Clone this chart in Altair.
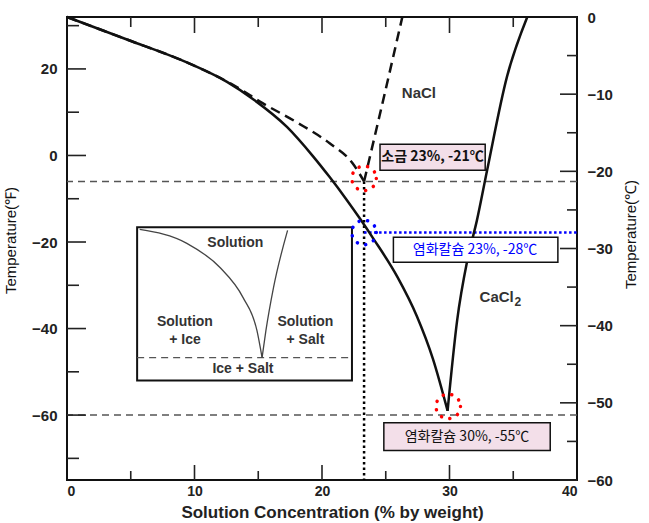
import altair as alt
import pandas as pd

# ---------------- data (x: % by weight, y: degrees F) ----------------
cacl2_ice_x = [0, 4.7, 9.4, 12.55, 14.6, 17.25, 19.3, 20.6, 21.8, 23.0, 24.0, 25.9, 27.45, 28.7, 29.85]
cacl2_ice_f = [32, 26.8, 21.5, 17.0, 13.0, 6.6, -0.2, -5.0, -9.7, -14.7, -19.1, -28.0, -37.2, -47.0, -59]
cacl2_salt_x = [29.85, 30.6, 31.4, 32.15, 32.95, 34.5, 36.1]
cacl2_salt_f = [-59, -38.1, -24.2, -15.0, -3.4, 18.1, 32]
nacl_ice_x = [0, 4.7, 9.4, 12.6, 13.6, 15.1, 18.0, 20.6, 22.4, 23.3]
nacl_ice_f = [32, 26.8, 21.5, 17.0, 15.3, 12.5, 7.7, 2.8, -1.8, -6]
nacl_salt_x = [23.3, 24.5, 26.3]
nacl_salt_f = [-6, 9, 32]

eutectic_f = [-6, -60]
guide_x = 23.3
guide_cacl2_f = -17.8
bottom_f = -75

# inset schematic (drawn in main data coordinates)
inset_box = [5.5, 22.35, -16.6, -52]
inset_ice_x = [5.7, 9.4, 12.0, 13.8, 14.9, 15.3]
inset_ice_f = [-17.1, -20.3, -25.9, -32.8, -40.5, -46.7]
inset_salt_x = [15.3, 15.6, 16.2, 17.3]
inset_salt_f = [-46.7, -40.5, -30.5, -17.3]
inset_eut_f = -46.7
inset_text = ["Solution", "Solution", "+ Ice", "Solution", "+ Salt", "Ice + Salt"]
inset_text_x = [13.2, 9.25, 9.25, 18.7, 18.7, 13.8]
inset_text_f = [-20.3, -38.4, -42.6, -38.4, -42.6, -49.3]

# circles
circ_x = [23.3, 23.3, 29.9]
circ_f = [-5.3, -17.8, -58.0]
circ_col = ["#ff0000", "#0000ff", "#ff0000"]

# annotation boxes
ann_x1 = [24.55, 25.6, 24.85]
ann_x2 = [32.8, 38.5, 37.9]
ann_y1 = [2.6, -18.9, -61.75]
ann_y2 = [-3.4, -24.7, -68.2]
ann_fill = ["#f3dfe9", "#ffffff", "#f3dfe9"]
ann_text = ["소금 23%, -21℃", "염화칼슘 23%, -28℃", "염화칼슘 30%, -55℃"]
ann_tx = [28.67, 32.0, 31.37]
ann_ty = [-0.4, -21.8, -65.0]

# ticks
x_labels = [0, 10, 20, 30, 40]
x_major = [10, 20, 30]
x_minor = [5, 15, 25, 35]
f_labels = [20, 0, -20, -40, -60]
f_minor = [30, 10, -10, -30, -50, -70]
c_labels = [0, -10, -20, -30, -40, -50, -60]
c_minor = [-5, -15, -25, -35, -45, -55]

W, H = 510, 463
FONT = "Liberation Sans"
KFONT = "Noto Sans CJK KR"

xs = alt.Scale(domain=[0, 40], nice=False, zero=False)
ys = alt.Scale(domain=[-75, 32], nice=False, zero=False)
cs = alt.Scale(domain=[-60, 0], nice=False, zero=False)

X_AXIS = alt.Axis(values=x_labels, tickSize=0, domain=False, grid=False,
                  labelPadding=4, labelFont=FONT, labelFontSize=14, labelFontWeight="bold",
                  labelColor="#222", title="Solution Concentration (% by weight)",
                  titleFont=FONT, titleFontSize=17, titleFontWeight="bold", titleColor="#222",
                  titleY=24, titleX=265)
Y_AXIS = alt.Axis(values=f_labels, tickSize=0, domain=False, grid=False,
                  labelPadding=10, labelFont=FONT, labelFontSize=15, labelFontWeight="bold",
                  labelColor="#222", title="Temperature(℉)", titleFont=FONT,
                  titleFontSize=15, titleFontWeight="normal", titleColor="#111",
                  titleX=-49, titleY=223, titleAngle=-90)
C_AXIS = alt.Axis(orient="right", values=c_labels, tickSize=0, domain=False,
                  grid=False, labelPadding=10, labelFont=FONT, labelFontSize=15,
                  labelFontWeight="bold", labelColor="#222",
                  title="Temperature(℃)", titleFont=FONT, titleFontSize=15,
                  titleFontWeight="normal", titleColor="#111",
                  titleX=61, titleY=217, titleAngle=-90)


def X(f="x"):
    return alt.X(f"{f}:Q", scale=xs, axis=X_AXIS, title="Solution Concentration (% by weight)")


def Y(f="f"):
    return alt.Y(f"{f}:Q", scale=ys, axis=Y_AXIS, title="Temperature(℉)")


def C(f="c"):
    return alt.Y(f"{f}:Q", scale=cs, axis=C_AXIS, title="Temperature(℃)")


curves = pd.DataFrame(
    [dict(x=a, f=b, br="ci") for a, b in zip(cacl2_ice_x, cacl2_ice_f)]
    + [dict(x=a, f=b, br="cs") for a, b in zip(cacl2_salt_x, cacl2_salt_f)]
)
nacl = pd.DataFrame(
    [dict(x=a, f=b, br="ni") for a, b in zip(nacl_ice_x, nacl_ice_f)]
    + [dict(x=a, f=b, br="ns") for a, b in zip(nacl_salt_x, nacl_salt_f)]
)
inset_curves = pd.DataFrame(
    [dict(x=a, f=b, br="i") for a, b in zip(inset_ice_x, inset_ice_f)]
    + [dict(x=a, f=b, br="s") for a, b in zip(inset_salt_x, inset_salt_f)]
)

eut = alt.Chart(pd.DataFrame({"f": eutectic_f})).mark_rule(
    color="#555", strokeWidth=1.5, strokeDash=[7, 5]).encode(y=Y())

vdot = alt.Chart(pd.DataFrame({"x": [guide_x], "f": [eutectic_f[0]], "f2": [bottom_f]})).mark_rule(
    color="#000", strokeWidth=2.5, strokeDash=[2.5, 3]).encode(x=X(), y=Y(), y2="f2:Q")

hdot = alt.Chart(pd.DataFrame({"x": [guide_x], "x2": [40], "f": [guide_cacl2_f]})).mark_rule(
    color="#0000ff", strokeWidth=2.5, strokeDash=[2.5, 2.5]).encode(x=X(), x2="x2:Q", y=Y())

cacl2_line = alt.Chart(curves).mark_line(color="#111", strokeWidth=2.5, interpolate="monotone").encode(
    x=X(), y=Y(), detail="br:N")
nacl_line = alt.Chart(nacl).mark_line(color="#111", strokeWidth=2.5, strokeDash=[10, 6],
                                      interpolate="monotone").encode(x=X(), y=Y(), detail="br:N")

inset_rect = alt.Chart(pd.DataFrame({"x": [inset_box[0]], "x2": [inset_box[1]],
                                     "f": [inset_box[2]], "f2": [inset_box[3]]})).mark_rect(
    fill="white", stroke="#111", strokeWidth=2).encode(x=X(), x2="x2:Q", y=Y(), y2="f2:Q")
inset_eut = alt.Chart(pd.DataFrame({"x": [inset_box[0]], "x2": [inset_box[1]], "f": [inset_eut_f]})).mark_rule(
    color="#555", strokeWidth=1.3, strokeDash=[7, 5]).encode(x=X(), x2="x2:Q", y=Y())
inset_line = alt.Chart(inset_curves).mark_line(color="#444", strokeWidth=1.3, interpolate="monotone").encode(
    x=X(), y=Y(), detail="br:N")
inset_lbl = alt.Chart(pd.DataFrame({"x": inset_text_x, "f": inset_text_f, "t": inset_text})).mark_text(
    font=FONT, fontSize=14, fontWeight="bold", color="#333").encode(x=X(), y=Y(), text="t:N")

ann_df = pd.DataFrame({"x": ann_x1, "x2": ann_x2, "f": ann_y1, "f2": ann_y2, "fill": ann_fill,
                       "t": ann_text, "tx": ann_tx, "ty": ann_ty})
ann_rect = alt.Chart(ann_df).mark_rect(stroke="#111", strokeWidth=1.5).encode(
    x=X(), x2="x2:Q", y=Y(), y2="f2:Q", fill=alt.Fill("fill:N", scale=None))
ann_t1 = alt.Chart(ann_df.iloc[[0]]).mark_text(font=KFONT, fontSize=14, fontWeight="bold", color="#111").encode(
    x=X("tx"), y=Y("ty"), text="t:N")
ann_t2 = alt.Chart(ann_df.iloc[[1]]).mark_text(font=KFONT, fontSize=14, color="#0000ff").encode(
    x=X("tx"), y=Y("ty"), text="t:N")
ann_t3 = alt.Chart(ann_df.iloc[[2]]).mark_text(font=KFONT, fontSize=14, color="#111").encode(
    x=X("tx"), y=Y("ty"), text="t:N")

circles = alt.Chart(pd.DataFrame({"x": circ_x, "f": circ_f, "c": circ_col})).mark_point(
    shape="circle", filled=False, size=600, strokeWidth=3.5, strokeDash=[0.1, 8.6],
    strokeCap="round", opacity=1).encode(x=X(), y=Y(), stroke=alt.Stroke("c:N", scale=None))

labels = alt.Chart(pd.DataFrame({"x": [27.6, 33.7], "f": [14.4, -32.8], "t": ["NaCl", "CaCl"]})).mark_text(
    font=FONT, fontSize=15, fontWeight="bold", color="#333").encode(x=X(), y=Y(), text="t:N")
sub2 = alt.Chart(pd.DataFrame({"x": [35.1], "f": [-33.8], "t": ["2"]})).mark_text(
    font=FONT, fontSize=12, fontWeight="bold", color="#333", align="left").encode(x=X(), y=Y(), text="t:N")

# inward ticks
tick_style = dict(color="#222", strokeWidth=1.6)
top_major = alt.Chart(pd.DataFrame({"x": x_major})).mark_rule(**tick_style).encode(
    x=X(), y=alt.value(0), y2=alt.value(16))
top_minor = alt.Chart(pd.DataFrame({"x": x_minor})).mark_rule(**tick_style).encode(
    x=X(), y=alt.value(0), y2=alt.value(10))
bot_major = alt.Chart(pd.DataFrame({"x": x_major})).mark_rule(**tick_style).encode(
    x=X(), y=alt.value(H), y2=alt.value(H - 15))
bot_minor = alt.Chart(pd.DataFrame({"x": x_minor})).mark_rule(**tick_style).encode(
    x=X(), y=alt.value(H), y2=alt.value(H - 9))
left_major = alt.Chart(pd.DataFrame({"f": f_labels})).mark_rule(**tick_style).encode(
    y=Y(), x=alt.value(0), x2=alt.value(19))
left_minor = alt.Chart(pd.DataFrame({"f": f_minor})).mark_rule(**tick_style).encode(
    y=Y(), x=alt.value(0), x2=alt.value(12))

right_major = alt.Chart(pd.DataFrame({"c": c_labels})).mark_rule(**tick_style).encode(
    y=C(), x=alt.value(W), x2=alt.value(W - 17))
right_minor = alt.Chart(pd.DataFrame({"c": c_minor})).mark_rule(**tick_style).encode(
    y=C(), x=alt.value(W), x2=alt.value(W - 10))

main = alt.layer(eut, vdot, hdot, cacl2_line, nacl_line, inset_rect, inset_eut, inset_line,
                 inset_lbl, ann_rect, ann_t1, ann_t2, ann_t3, circles, labels, sub2,
                 top_major, top_minor, bot_major, bot_minor, left_major, left_minor)
right = alt.layer(right_major, right_minor)

chart = alt.layer(main, right).resolve_scale(y="independent").properties(
    width=W, height=H,
    autosize=alt.AutoSizeParams(type="none"),
    padding={"left": 67, "top": 17, "right": 72, "bottom": 43},
    background="white",
).configure_view(stroke="#111", strokeWidth=2)

chart.save("out.html", embed_options={"renderer": "svg", "actions": False})
